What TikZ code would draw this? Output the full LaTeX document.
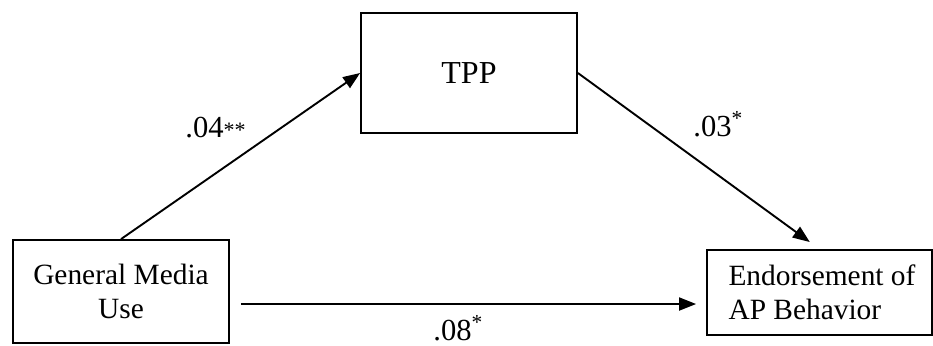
\documentclass[tikz,border=0pt]{standalone}
\usepackage{fontspec}
\setmainfont{Liberation Serif}
\usetikzlibrary{arrows.meta, positioning}

\begin{document}
\begin{tikzpicture}[x=0.5pt, y=-0.5pt,
        box/.style={draw, line width=0.9pt, inner sep=0pt, align=center, font=\fontsize{14.7}{16.8}\selectfont},
        link/.style={-{Triangle[length=8.5pt, width=6.5pt]}, line width=0.95pt},
        coef/.style={inner sep=0pt, anchor=base west, font=\fontsize{15.3}{18}\selectfont}]
    \useasboundingbox (0,0) rectangle (933,345);

    % mediation model: predictor, mediator, outcome
    \node[box, minimum width=108pt, minimum height=51.5pt] (media) at (121,291.5) {General Media\\Use};
    \node[box, minimum width=108pt, minimum height=60pt, font=\fontsize{16}{19}\selectfont] (tpp) at (469,73) {TPP};
    \node[box, minimum width=112.5pt, minimum height=42.5pt, align=left] (endorse) at (819.5,292.5) {\hspace*{2.5pt}Endorsement of\\\hspace*{2.5pt}AP Behavior};

    \draw[link] (media.north) -- (tpp.west);
    \draw[link, shorten >=6pt] (tpp.east) -- (endorse.north);
    \coordinate (direct) at ([yshift=-6.25pt]media.east);
    \draw[link, shorten <=5.5pt, shorten >=5pt] (direct) -- (direct -| endorse.west);

    % path coefficients
    \node[coef] (amed) at (185,137) {.04{\fontsize{11}{13}\selectfont**}};
    \node[coef] (bmed) at (693,136) {.03\textsuperscript{*}};
    \node[coef] (cdir) at (433,340) {.08\textsuperscript{*}};
\end{tikzpicture}
\end{document}
